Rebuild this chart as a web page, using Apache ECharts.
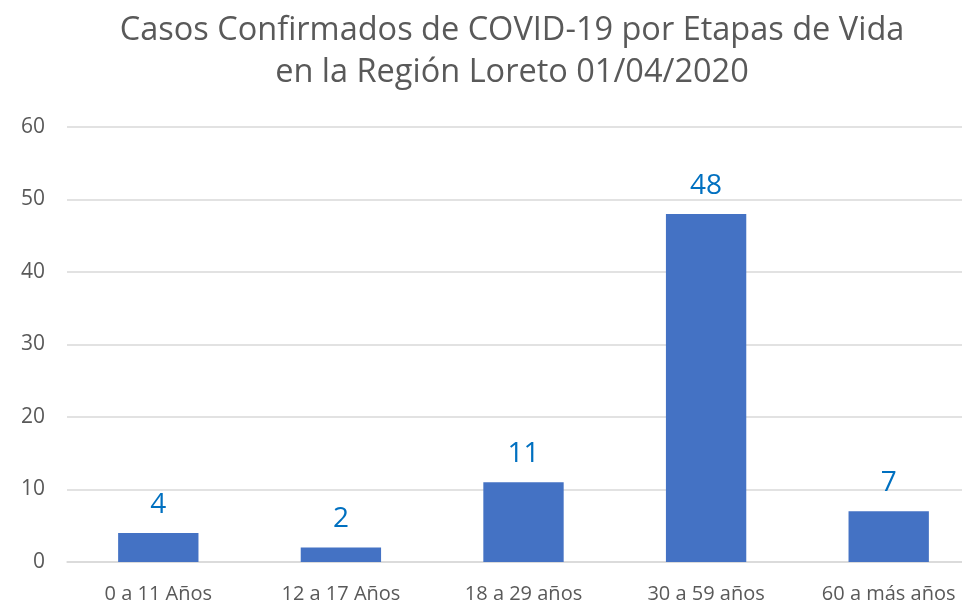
<!DOCTYPE html>
<html><head><meta charset="utf-8">
<script src="https://cdn.jsdelivr.net/npm/echarts@6/dist/echarts.min.js"></script>
<style>html,body{margin:0;padding:0;background:#fff}#c{width:962px;height:603px}</style>
</head><body><div id="c"></div>
<script>
const categories = ["0 a 11 Años", "12 a 17 Años", "18 a 29 años", "30 a 59 años", "60 a más años"];
const values = [4, 2, 11, 48, 7];
const titleText = "Casos Confirmados de COVID-19 por Etapas de Vida\nen la Región Loreto 01/04/2020";
const chart = echarts.init(document.getElementById('c'));
chart.setOption({
  animation: false,
  textStyle: {fontFamily: "Open Sans"},
  title: {
    text: titleText, left: 507, top: 5, textAlign: 'center',
    textStyle: {fontFamily: "Open Sans", fontSize: 32.5, fontWeight: 'normal', color: '#595959', lineHeight: 42}
  },
  grid: {left: 67, width: 913, top: 127, height: 435, containLabel: false, outerBoundsMode: 'none'},
  xAxis: {
    type: 'category', data: categories,
    axisLine: {lineStyle: {color: '#d9d9d9', width: 1.5}},
    axisTick: {show: false},
    axisLabel: {color: '#595959', fontSize: 20, margin: 22, fontFamily: "Open Sans"}
  },
  yAxis: {
    type: 'value', min: 0, max: 60, interval: 10,
    axisLine: {show: false}, axisTick: {show: false},
    splitLine: {lineStyle: {color: '#d9d9d9', width: 1.5}},
    axisLabel: {color: '#595959', fontSize: 21, margin: 22, fontFamily: "Open Sans"}
  },
  series: [{
    type: 'bar', data: values, barWidth: '44%',
    itemStyle: {color: '#4472C4'},
    label: {show: true, position: 'top', distance: 14, color: '#0070C0', fontSize: 28, fontFamily: "Open Sans"}
  }]
});
</script></body></html>
